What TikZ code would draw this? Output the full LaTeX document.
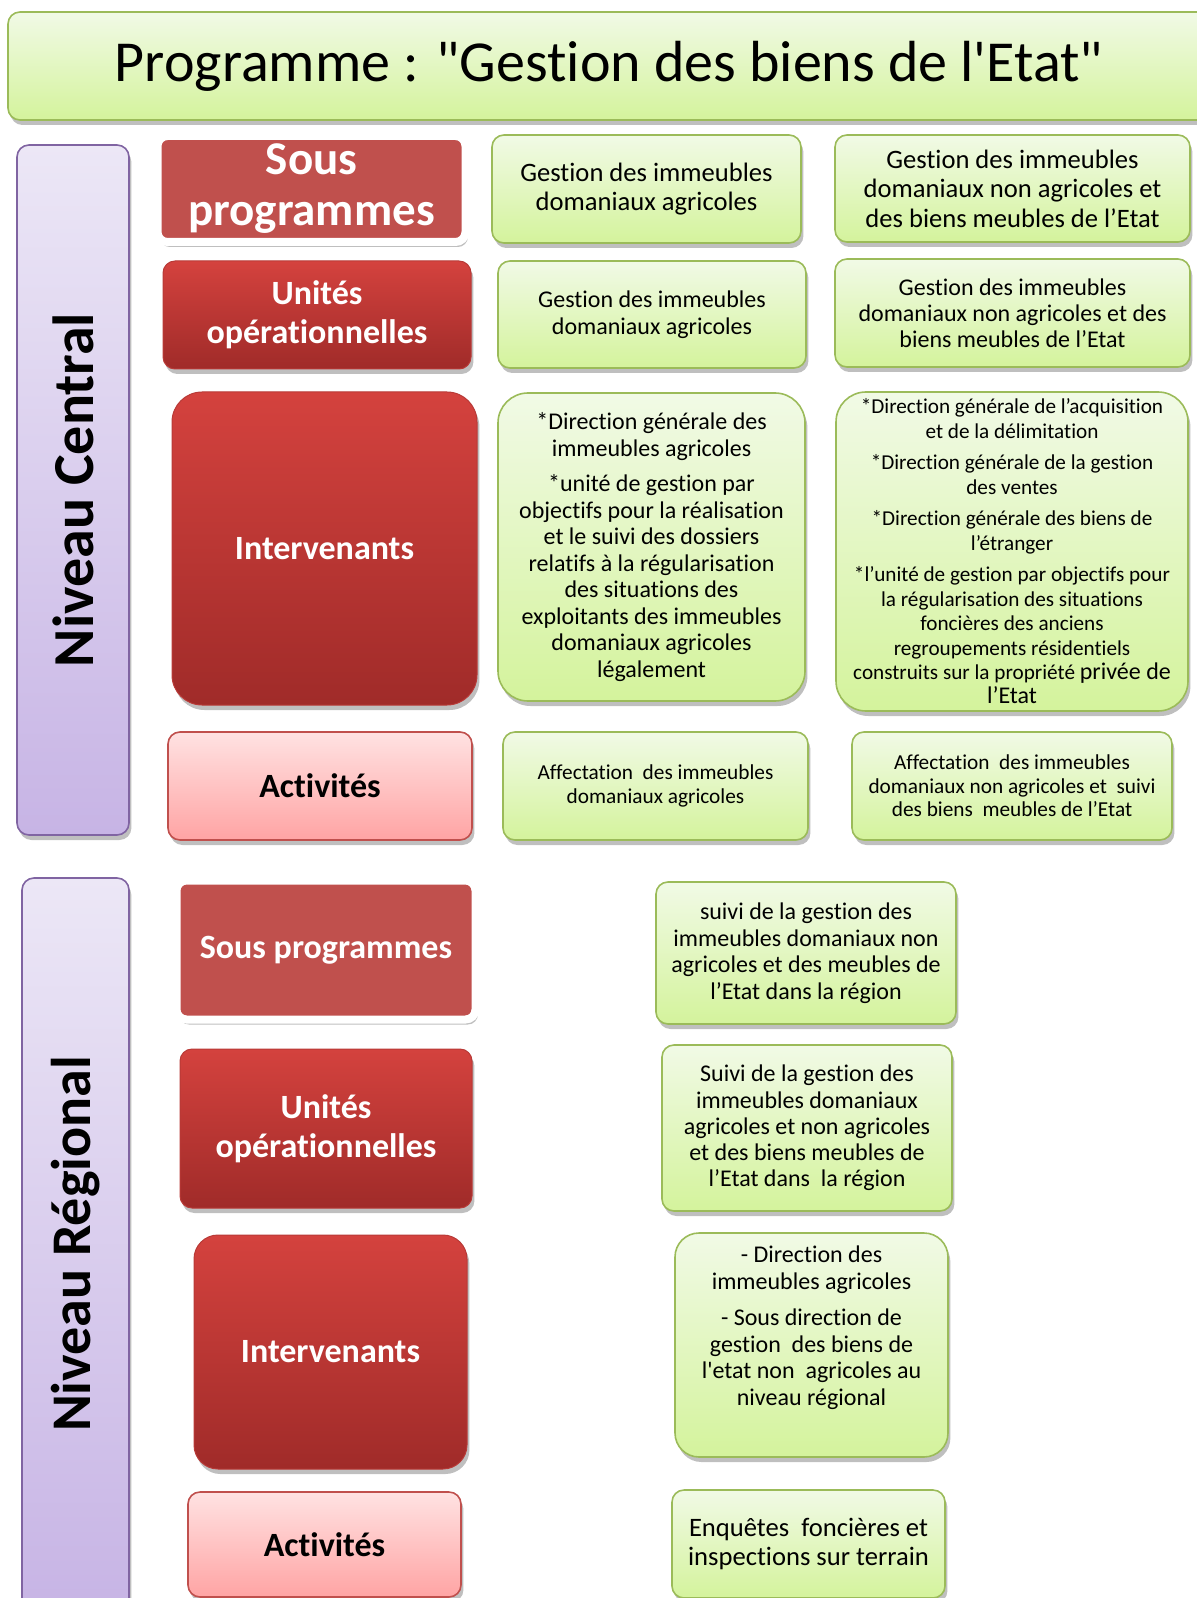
\documentclass[tikz,border=0pt]{standalone}
\usepackage{fontspec}
\setmainfont{Carlito}[Ligatures={TeXOff,NoCommon}]
\usetikzlibrary{shadows}

\definecolor{grTop}{HTML}{F1FAE6}
\definecolor{grBot}{HTML}{D4F39C}
\definecolor{grLine}{HTML}{9BBB59}
\definecolor{rdTop}{HTML}{D4423E}
\definecolor{rdBot}{HTML}{A02B29}
\definecolor{rdLine}{HTML}{B83A37}
\definecolor{spRed}{HTML}{C0504D}
\definecolor{pkTop}{HTML}{FFE2E2}
\definecolor{pkBot}{HTML}{FFA4A4}
\definecolor{lvTop}{HTML}{ECE7F6}
\definecolor{lvBot}{HTML}{C7B4E5}
\definecolor{lvLine}{HTML}{8064A2}

\newcommand{\fs}[2]{\fontsize{#1}{#2}\selectfont}

\tikzset{
  wh/.style 2 args={minimum width=#1*0.5pt,minimum height=#2*0.5pt},
  base/.style={inner sep=0pt,align=center,
    drop shadow={shadow xshift=1.2pt,shadow yshift=-2.5pt,opacity=0.25,fill=black}},
  grbox/.style={base,draw=grLine,line width=0.8pt,rounded corners=6pt,
    top color=grTop,bottom color=grBot,text=black},
  redbox/.style={base,draw=rdLine,line width=0.5pt,rounded corners=6pt,
    top color=rdTop,bottom color=rdBot,text=white,font=\bfseries\fs{17}{19.5}},
  subprog/.style={base,draw=white,line width=4pt,fill=spRed,rounded corners=5pt,
    text=white,font=\bfseries\fs{17}{19.5}},
  actbox/.style={base,draw=spRed,line width=0.8pt,rounded corners=6pt,
    top color=pkTop,bottom color=pkBot,text=black,font=\bfseries\fs{17}{19.5}},
  sidebar/.style={base,draw=lvLine,line width=0.8pt,rounded corners=6pt,
    top color=lvTop,bottom color=lvBot,text=black}
}

\begin{document}
\begin{tikzpicture}[x=0.5pt,y=-0.5pt]
\useasboundingbox (0,0) rectangle (1196,1598);

\node[grbox,wh={1202}{108},font=\fs{29}{32}] (tTitle) at (609,66) {Programme : "Gestion des biens de l'Etat"};

% niveau central
\node[sidebar,wh={112}{690},font=\bfseries\fs{29}{30}] (cNiv) at (73,490) {\rotatebox{90}{Niveau Central}};

\node[subprog,wh={308}{106},font=\bfseries\fs{23.5}{25.5}] (cSous) at (311.5,189) {Sous\\programmes};
\node[redbox,wh={308}{108}] (cUnit) at (317,315) {Unités\\opérationnelles};
\node[redbox,wh={305}{313},rounded corners=15pt] (cInter) at (324.5,548.5) {Intervenants};
\node[actbox,wh={304}{108}] (cAct) at (320,786) {Activités};

\node[grbox,wh={309}{108},font=\fs{13.3}{14.6}] (cAgr1) at (646.5,189) {Gestion des immeubles\\domaniaux agricoles};
\node[grbox,wh={308}{107},font=\fs{12}{13.75}] (cAgr2) at (652,314.5) {Gestion des immeubles\\domaniaux agricoles};
\node[grbox,wh={307}{308},rounded corners=15pt,font=\fs{12}{13.25}] (cAgr3) at (651.5,547)
  {*Direction générale des\\immeubles agricoles\\[4.5pt]*unité de gestion par\\objectifs pour la réalisation\\et le suivi des dossiers\\relatifs à la régularisation\\des situations des\\exploitants des immeubles\\domaniaux agricoles\\légalement};
\node[grbox,wh={305}{108},font=\fs{10.65}{11.7}] (cAgr4) at (655.5,786) {Affectation\ \ des immeubles\\domaniaux agricoles};

\node[grbox,wh={355}{107},font=\fs{13.3}{14.8}] (cNag1) at (1012.5,188.5) {Gestion des immeubles\\domaniaux non agricoles et\\des biens meubles de l’Etat};
\node[grbox,wh={355}{108},font=\fs{12}{13}] (cNag2) at (1012.5,313) {Gestion des immeubles\\domaniaux non agricoles et des\\biens meubles de l’Etat};
\node[grbox,wh={352}{319},rounded corners=15pt,font=\fs{10.6}{12.2}] (cNag3) at (1012,551.5)
  {*Direction générale de l’acquisition\\et de la délimitation\\[3.6pt]*Direction générale de la gestion\\des ventes\\[3.6pt]*Direction générale des biens de\\l’étranger\\[3.6pt]*l’unité de gestion par objectifs pour\\la régularisation des situations\\foncières des anciens\\regroupements résidentiels\\construits sur la propriété {\fs{12}{12.2}privée de}\\{\fs{12}{13}l’Etat}};
\node[grbox,wh={320}{108},font=\fs{10.65}{11.7}] (cNag4) at (1012,786) {Affectation\ \ des immeubles\\domaniaux non agricoles et\ \ suivi\\des biens\ \ meubles de l’Etat};

% niveau regional
\node[sidebar,wh={107}{732},font=\bfseries\fs{28}{30}] (rNiv) at (75.5,1244) {\rotatebox{90}{Niveau Régional}};

\node[subprog,wh={299}{139}] (rSous) at (326,950) {Sous programmes};
\node[redbox,wh={292}{159}] (rUnit) at (326,1128.5) {Unités\\opérationnelles};
\node[redbox,wh={273}{234},rounded corners=12pt] (rInter) at (330.5,1352) {Intervenants};
\node[actbox,wh={273}{105}] (rAct) at (324.5,1544.5) {Activités};

\node[grbox,wh={300}{142},font=\fs{12}{13.25}] (rReg1) at (806,953) {suivi de la gestion des\\immeubles domaniaux non\\agricoles et des meubles de\\l’Etat dans la région};
\node[grbox,wh={290}{166},font=\fs{12}{13.1}] (rReg2) at (807,1128) {Suivi de la gestion des\\immeubles domaniaux\\agricoles et non agricoles\\et des biens meubles de\\l’Etat dans\ \ la région};
\node[grbox,wh={273}{224},rounded corners=12pt,font=\fs{12}{13.25}] (rReg3) at (811.5,1345)
  {- Direction des\\immeubles agricoles\\[5pt]- Sous direction de\\gestion\ \ des biens de\\l'etat non\ \ agricoles au\\niveau régional\\[6pt]\mbox{}};
\node[grbox,wh={273}{108},font=\fs{13.3}{14.75}] (rReg4) at (808.5,1544) {Enquêtes\ \ foncières et\\inspections sur terrain};

\end{tikzpicture}
\end{document}
